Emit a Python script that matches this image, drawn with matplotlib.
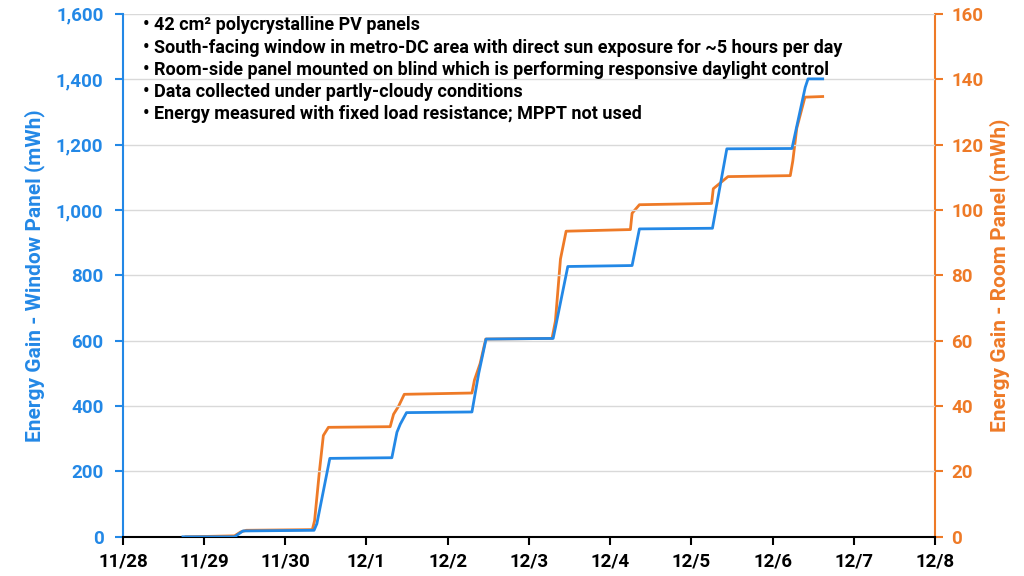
import pandas as pd
import matplotlib.pyplot as plt
import matplotlib.dates as mdates
from matplotlib.ticker import FuncFormatter

plt.rcParams['font.family'] = ['Roboto', 'DejaVu Sans']
plt.rcParams['font.weight'] = 'bold'

# window panel (left axis, mWh)
win_time = ['11-28 17:45', '11-29 09:00', '11-29 11:30', '11-30 08:30', '11-30 09:20',
            '11-30 13:10', '12-01 07:30', '12-01 09:00', '12-01 10:00', '12-01 11:50',
            '12-02 07:10', '12-02 09:10', '12-02 11:20', '12-03 07:10', '12-03 07:50',
            '12-03 11:30', '12-04 06:30', '12-04 08:40', '12-05 06:15', '12-05 10:30',
            '12-06 05:45', '12-06 09:40', '12-06 10:30', '12-06 14:50']
win_val = [0, 0, 18, 20, 40,
           240, 242, 320, 345, 380,
           382, 500, 605, 607, 640,
           827, 830, 942, 944, 1187,
           1188, 1375, 1401, 1401]

# room panel (right axis, mWh)
room_time = ['11-28 18:40', '11-29 09:00', '11-29 10:50', '11-29 12:30', '11-30 08:00',
             '11-30 08:40', '11-30 10:05', '11-30 11:15', '11-30 12:45', '12-01 07:00',
             '12-01 08:00', '12-01 09:30', '12-01 11:10', '12-02 07:10', '12-02 07:55',
             '12-02 09:35', '12-02 11:15', '12-03 06:50', '12-03 07:50', '12-03 09:20',
             '12-03 11:00', '12-04 06:00', '12-04 06:30', '12-04 08:40', '12-05 06:00',
             '12-05 06:30', '12-05 10:50', '12-06 05:15', '12-06 06:00', '12-06 07:10',
             '12-06 09:35', '12-06 14:50']
room_val = [0, 0.3, 1.5, 2.0, 2.2,
            5, 20, 31, 33.5, 33.7,
            37.5, 40, 43.6, 44, 48,
            53, 60.5, 60.7, 66, 85,
            93.5, 94, 99, 101.6, 102,
            106.5, 110.2, 110.5, 115, 125,
            134.5, 134.7]

notes = ['• 42 cm² polycrystalline PV panels',
         '• South-facing window in metro-DC area with direct sun exposure for ~5 hours per day',
         '• Room-side panel mounted on blind which is performing responsive daylight control',
         '• Data collected under partly-cloudy conditions',
         '• Energy measured with fixed load resistance; MPPT not used']

blue = '#2388E6'
orange = '#EE7A27'

def to_dt(ts):
    return pd.to_datetime(['2019-' + t for t in ts])

fig = plt.figure(figsize=(10.24, 5.76), dpi=100)
ax = fig.add_axes([0.120, 0.068, 0.793, 0.908])
ax2 = ax.twinx()

ax.plot(to_dt(win_time), win_val, color=blue, lw=2, zorder=3)
ax2.plot(to_dt(room_time), room_val, color=orange, lw=2, zorder=3)

ax.set_ylim(0, 1600)
ax2.set_ylim(0, 160)
ax.set_yticks(range(0, 1601, 200))
ax2.set_yticks(range(0, 161, 20))
ax.yaxis.set_major_formatter(FuncFormatter(lambda v, p: f'{int(v):,}'))
ax.set_xlim(pd.Timestamp('2019-11-28'), pd.Timestamp('2019-12-08'))
ax.xaxis.set_major_locator(mdates.DayLocator())
ax.xaxis.set_major_formatter(FuncFormatter(
    lambda v, p: f'{mdates.num2date(v).month}/{mdates.num2date(v).day}'))

ax.grid(axis='y', color='#D9D9D9', lw=1)
ax.set_axisbelow(True)
ax.set_zorder(ax2.get_zorder() + 1)
ax.patch.set_visible(False)

for a in (ax, ax2):
    a.spines['top'].set_visible(False)
ax.spines['left'].set_color(blue)
ax.spines['left'].set_linewidth(1.5)
ax2.spines['right'].set_color(orange)
ax2.spines['right'].set_linewidth(1.5)
ax2.spines['left'].set_visible(False)
ax.spines['right'].set_visible(False)
ax.spines['bottom'].set_color('black')
ax.spines['bottom'].set_linewidth(1.5)
ax2.spines['bottom'].set_visible(False)

ax.tick_params(axis='y', colors=blue, labelsize=13.5, length=6, width=1.5, pad=8)
ax2.tick_params(axis='y', colors=orange, labelsize=13.5, length=6, width=1.5, pad=6)
ax.tick_params(axis='x', colors='black', labelsize=13.5, length=6, width=1.5, pad=5)

ax.set_ylabel('Energy Gain - Window Panel (mWh)', color=blue, fontsize=15,
              fontweight='bold', labelpad=8)
ax2.set_ylabel('Energy Gain - Room Panel (mWh)', color=orange, fontsize=15,
               fontweight='bold', labelpad=4)

for i, line in enumerate(notes):
    ax.text(0.025, 0.995 - i * 0.0425, line, transform=ax.transAxes, fontsize=13,
            fontweight='bold', va='top', ha='left', color='black')

fig.savefig('out.png', dpi=100)
